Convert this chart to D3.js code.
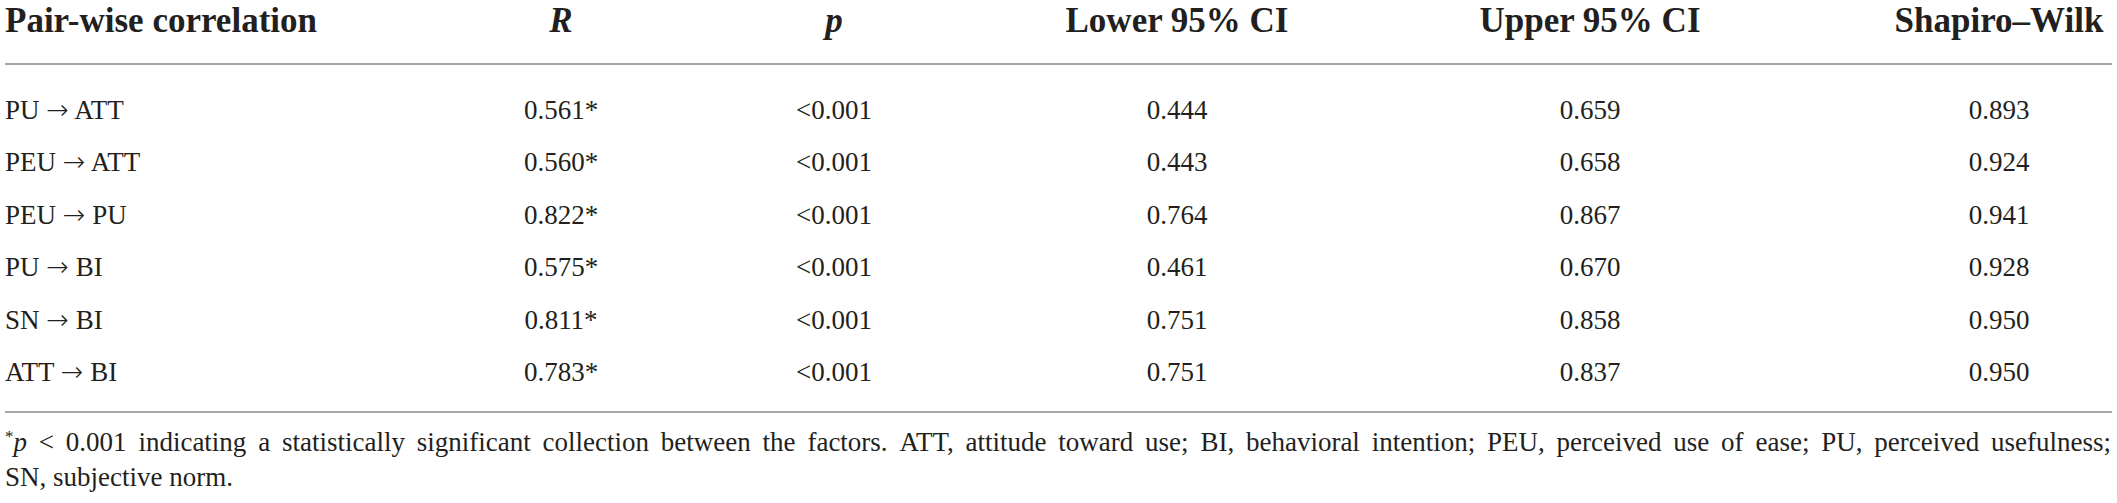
<!DOCTYPE html>
<html>
<head>
    <meta charset="utf-8">
    <title>Pair-wise correlation</title>
    <style>
    body { margin: 0; background: #fff; }
    svg { display: block; }
    </style>
</head>
<body>
<svg width="2117" height="503"></svg>
<script src="https://d3js.org/d3.v7.min.js"></script>
<script>

// table data
pairs = ["PU \u2192 ATT", "PEU \u2192 ATT", "PEU \u2192 PU", "PU \u2192 BI", "SN \u2192 BI", "ATT \u2192 BI"]
rValues = ["0.561*", "0.560*", "0.822*", "0.575*", "0.811*", "0.783*"]
pValues = ["<0.001", "<0.001", "<0.001", "<0.001", "<0.001", "<0.001"]
lowerCI = ["0.444", "0.443", "0.764", "0.461", "0.751", "0.751"]
upperCI = ["0.659", "0.658", "0.867", "0.670", "0.858", "0.837"]
shapiro = ["0.893", "0.924", "0.941", "0.928", "0.950", "0.950"]

headers = ["Pair-wise correlation", "R", "p", "Lower 95% CI", "Upper 95% CI", "Shapiro\u2013Wilk"]
italicHeader = [false, true, true, false, false, false]

footLine1 = "*p < 0.001 indicating a statistically significant collection between the factors. ATT, attitude toward use; BI, behavioral intention; PEU, perceived use of ease; PU, perceived usefulness;"
footLine2 = "SN, subjective norm."

width = 2117
height = 503
font = "'Liberation Serif', 'Times New Roman', serif"
ink = "#231f20"

const columns = [pairs, rValues, pValues, lowerCI, upperCI, shapiro]

// x of each column (first one left aligned, rest centred)
const x = d3.scaleOrdinal()
    .domain(d3.range(6))
    .range([5, 561, 834, 1177, 1590, 1999])

// rows
const y = d3.scalePoint()
    .domain(d3.range(pairs.length))
    .range([119, 381])

const svg = d3.select("svg")
    .attr("viewBox", [0, 0, width, height])
    .attr("font-family", font)
    .attr("fill", ink)

// header
svg.append("g")
    .attr("font-size", 35)
    .attr("font-weight", "bold")
  .selectAll("text")
  .data(headers)
  .join("text")
    .attr("x", (d, i) => x(i))
    .attr("y", 32)
    .attr("text-anchor", (d, i) => i == 0 ? "start" : "middle")
    .attr("font-style", (d, i) => italicHeader[i] ? "italic" : null)
    .text(d => d)

// rules
svg.append("g")
    .attr("stroke", "#a6a6a6")
    .attr("stroke-width", 2)
  .selectAll("line")
  .data([64, 412])
  .join("line")
    .attr("x1", 5)
    .attr("x2", 2112)
    .attr("y1", d => d)
    .attr("y2", d => d)

// body cells
const col = svg.append("g")
    .attr("font-size", 27)
  .selectAll("g")
  .data(columns)
  .join("g")
    .attr("text-anchor", (d, i) => i == 0 ? "start" : "middle")
    .attr("transform", (d, i) => `translate(${x(i)},0)`)

col.selectAll("text")
  .data(d => d)
  .join("text")
    .attr("y", (d, i) => y(i))
    .each(function(d) {
      // the Liberation arrow is tiny, take a long thin one from DejaVu
      const t = d3.select(this)
      const parts = d.split("\u2192")
      if (parts.length == 1) { t.text(d); return }
      t.append("tspan").text(parts[0])
      t.append("tspan")
          .attr("font-family", "'DejaVu Sans ExtraLight', 'DejaVu Sans'")
          .attr("font-weight", 200)
          .attr("font-size", 27)
          .text("\u2192")
      t.append("tspan").text(parts[1])
    })

// footnote, justified on the first line
const foot = svg.append("g").attr("font-size", 27)

function wordText(g, w) {
  const t = g.append("text")
  if (w == "*p") {
    t.append("tspan").attr("font-size", 17).attr("dy", -9).text("*")
    t.append("tspan").attr("font-style", "italic").attr("dy", 9).text("p")
  } else {
    t.text(w)
  }
  return t
}

const words = footLine1.split(" ")
const left = 5, right = 2111
const nodes = words.map(w => wordText(foot, w).attr("y", 451))
const widths = nodes.map(n => n.node().getComputedTextLength())
const gap = (right - left - d3.sum(widths)) / (words.length - 1)
let cx = left
nodes.forEach((n, i) => {
  n.attr("x", cx)
  cx += widths[i] + gap
})

foot.append("text")
    .attr("x", left)
    .attr("y", 486)
    .text(footLine2)

</script>
</body>
</html>
